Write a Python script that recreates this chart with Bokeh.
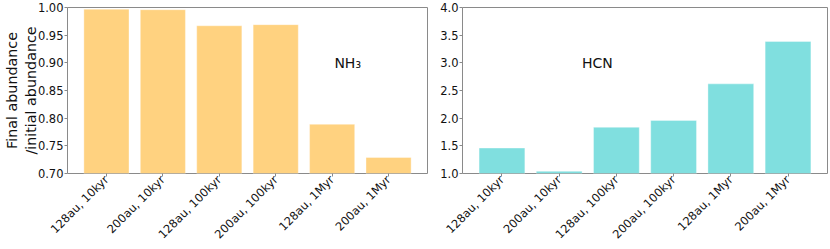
import math
import numpy as np
from bokeh.plotting import figure
from bokeh.layouts import row
from bokeh.models import Range1d, FixedTicker, Label, ColumnDataSource
from bokeh.embed import file_html
from bokeh.resources import INLINE

categories = ["128au, 10kyr", "200au, 10kyr", "128au, 100kyr",
              "200au, 100kyr", "128au, 1Myr", "200au, 1Myr"]
nh3_values = [0.997, 0.996, 0.967, 0.969, 0.789, 0.729]
hcn_values = [1.46, 1.04, 1.835, 1.96, 2.62, 3.385]
nh3_ticks = [0.70, 0.75, 0.80, 0.85, 0.90, 0.95, 1.00]
hcn_ticks = [1.0, 1.5, 2.0, 2.5, 3.0, 3.5, 4.0]

FONT = "DejaVu Sans"
FRAME = "#8a8a8a"


def make_fig(values, color, yticks, yfmt, yrange, width, label, lx, ly,
             ylabel=None, border_left=None, border_right=4):
    x = list(range(len(categories)))
    p = figure(width=width, height=249, output_backend="svg", toolbar_location=None,
               x_range=Range1d(-0.69, len(categories) - 0.31),
               y_range=Range1d(*yrange))
    src = ColumnDataSource(dict(x=x, top=values))
    p.vbar(x="x", top="top", bottom=0, width=0.8, source=src,
           fill_color=color, line_color="white", line_alpha=0.6, line_width=0.6)
    p.xgrid.visible = False
    p.ygrid.visible = False
    p.outline_line_color = FRAME
    p.outline_line_width = 1
    p.min_border_top = 7
    p.min_border_right = border_right
    if border_left is not None:
        p.min_border_left = border_left
    p.background_fill_color = "white"
    p.border_fill_color = "white"

    xa = p.xaxis[0]
    xa.ticker = FixedTicker(ticks=x)
    xa.major_label_overrides = {i: c for i, c in enumerate(categories)}
    xa.major_label_orientation = math.pi / 4
    ya = p.yaxis[0]
    ya.ticker = FixedTicker(ticks=yticks)
    ya.major_label_overrides = {t: yfmt.format(t) for t in yticks}
    for ax in (xa, ya):
        ax.axis_line_color = None
        ax.major_tick_line_color = FRAME
        ax.major_tick_out = 3
        ax.major_tick_in = 0
        ax.minor_tick_line_color = None
        ax.major_label_text_font = FONT
        ax.major_label_text_font_size = "11.5px"
        ax.major_label_text_color = "#111111"
        ax.major_label_standoff = 1
    if ylabel:
        ya.axis_label = ylabel
        ya.axis_label_text_font = FONT
        ya.axis_label_text_font_size = "14.3px"
        ya.axis_label_text_font_style = "normal"
        ya.axis_label_text_color = "#111111"
        ya.axis_label_text_line_height = 1.2
        ya.axis_label_standoff = -4
    p.add_layout(Label(x=lx, y=ly, text=label, text_font=FONT, text_font_size="14px",
                       text_align="left", text_baseline="alphabetic", text_color="#111111"))
    return p


p1 = make_fig(nh3_values, "#FFD280", nh3_ticks, "{:.2f}", (0.70, 1.00), 428,
              "NH₃", 4.04, 0.90, ylabel="Final abundance\n/initial abundance",
              border_right=1)
p2 = make_fig(hcn_values, "#80DFDF", hcn_ticks, "{:.1f}", (1.0, 4.0), 402,
              "HCN", 1.4, 3.0, border_left=34, border_right=3)

layout = row(p1, p2)
open("out.html", "w").write(file_html(layout, INLINE))
